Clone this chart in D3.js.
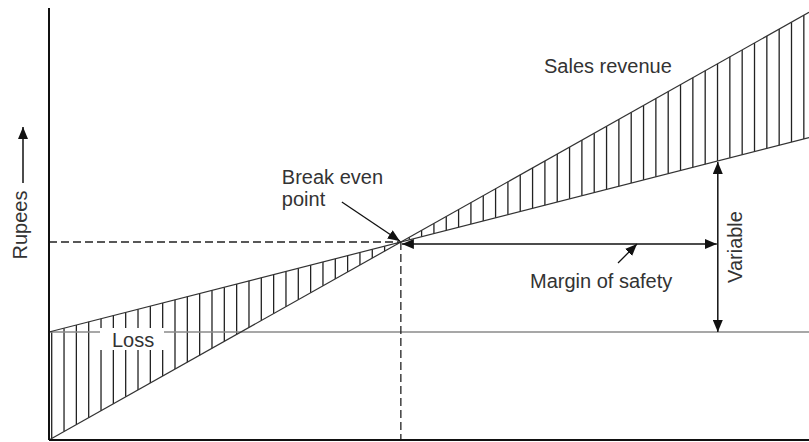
<!DOCTYPE html>
<html>
<head>
<meta charset="utf-8">
<script src="https://cdn.jsdelivr.net/npm/d3@7"></script>
<style>
  body { margin: 0; background: #fff; }
  text { font-family: "Liberation Sans", Arial, sans-serif; fill: #333; }
</style>
</head>
<body>
<div id="chart"></div>
<script>
// --- data (units of output vs rupees)
const units = [0, 1000];
const salesRevenue = [0, 990];
const totalCost = [250, 700];
const fixedCost = [250, 250];
const actualOutput = 880;
const labels = {
  sales: 'Sales revenue',
  bep: ['Break even', 'point'],
  margin: 'Margin of safety',
  variable: 'Variable',
  loss: 'Loss',
  yAxis: 'Rupees'
};

// --- dimensions
const width = 809;
const height = 442;
const margin = { top: 8, right: 0, bottom: 2, left: 49 };
const fontSize = 20;

const x = d3.scaleLinear().domain([0, 1000]).range([margin.left, width - margin.right]);
const y = d3.scaleLinear().domain([0, 1000]).range([height - margin.bottom, height - margin.bottom - 432]);

// line helpers
const lineAt = (vals) => (u) => vals[0] + (vals[1] - vals[0]) * (u - units[0]) / (units[1] - units[0]);
const sales = lineAt(salesRevenue);
const cost = lineAt(totalCost);
const fixed = lineAt(fixedCost);

// break even point from the intersection
const sSlope = (salesRevenue[1] - salesRevenue[0]) / (units[1] - units[0]);
const cSlope = (totalCost[1] - totalCost[0]) / (units[1] - units[0]);
const bepU = (totalCost[0] - salesRevenue[0]) / (sSlope - cSlope);
const bepV = sales(bepU);
const bx = x(bepU), by = y(bepV);

const svg = d3.select('#chart').append('svg')
  .attr('width', width)
  .attr('height', height);

// --- arrow markers
const defs = svg.append('defs');
defs.append('marker')
  .attr('id', 'head')
  .attr('viewBox', '0 0 12 10')
  .attr('refX', 12).attr('refY', 5)
  .attr('markerWidth', 12).attr('markerHeight', 10)
  .attr('markerUnits', 'userSpaceOnUse')
  .attr('orient', 'auto-start-reverse')
  .append('path')
  .attr('d', 'M0,0 L12,5 L0,10 Z')
  .attr('fill', '#111');

// --- hatching between sales and total cost
const hatchX = d3.range(51.7, width, 12.33);
svg.append('g')
  .attr('stroke', '#222')
  .attr('stroke-width', 1.3)
  .selectAll('line')
  .data(hatchX)
  .join('line')
    .attr('x1', d => d)
    .attr('x2', d => d)
    .attr('y1', d => y(sales(x.invert(d))))
    .attr('y2', d => y(cost(x.invert(d))));

// --- fixed cost line
svg.append('line')
  .attr('x1', x(units[0])).attr('x2', x(units[1]))
  .attr('y1', y(fixed(units[0]))).attr('y2', y(fixed(units[1])))
  .attr('stroke', '#8a8a8a')
  .attr('stroke-width', 1.5);

// --- sales & cost lines
const line = d3.line().x(d => x(d[0])).y(d => y(d[1]));
[salesRevenue, totalCost].forEach(vals => {
  svg.append('path')
    .attr('d', line(units.map((u, i) => [u, vals[i]])))
    .attr('fill', 'none')
    .attr('stroke', '#333')
    .attr('stroke-width', 1.2);
});

// --- dashed guides to break even point
svg.append('line')
  .attr('x1', x(0)).attr('x2', bx)
  .attr('y1', by).attr('y2', by)
  .attr('stroke', '#222').attr('stroke-width', 1.3)
  .attr('stroke-dasharray', '8,4');
svg.append('line')
  .attr('x1', bx).attr('x2', bx)
  .attr('y1', by).attr('y2', y(0))
  .attr('stroke', '#222').attr('stroke-width', 1.3)
  .attr('stroke-dasharray', '8,4');

// --- axes
svg.append('line')
  .attr('x1', x(0)).attr('x2', x(0))
  .attr('y1', y(0)).attr('y2', y.range()[1])
  .attr('stroke', '#111').attr('stroke-width', 2);
svg.append('line')
  .attr('x1', x(0)).attr('x2', x(units[1]))
  .attr('y1', y(0)).attr('y2', y(0))
  .attr('stroke', '#111').attr('stroke-width', 2);

// --- margin of safety arrow
const ax = x(actualOutput);
svg.append('line')
  .attr('x1', bx + 1).attr('x2', ax - 1)
  .attr('y1', by + 2).attr('y2', by + 2)
  .attr('stroke', '#111').attr('stroke-width', 1.5)
  .attr('marker-start', 'url(#head)')
  .attr('marker-end', 'url(#head)');

// --- variable cost arrow
svg.append('line')
  .attr('x1', ax).attr('x2', ax)
  .attr('y1', y(cost(actualOutput)) + 1).attr('y2', y(fixed(actualOutput)))
  .attr('stroke', '#111').attr('stroke-width', 1.5)
  .attr('marker-start', 'url(#head)')
  .attr('marker-end', 'url(#head)');

// --- pointer arrows
svg.append('line')
  .attr('x1', bx - 59).attr('y1', by - 40)
  .attr('x2', bx - 1).attr('y2', by - 1)
  .attr('stroke', '#111').attr('stroke-width', 1.3)
  .attr('marker-end', 'url(#head)');
svg.append('line')
  .attr('x1', 618).attr('y1', by + 21)
  .attr('x2', 637).attr('y2', by + 2)
  .attr('stroke', '#111').attr('stroke-width', 1.3)
  .attr('marker-end', 'url(#head)');

// --- y axis label and arrow
svg.append('line')
  .attr('x1', 23).attr('x2', 23)
  .attr('y1', 183).attr('y2', 127)
  .attr('stroke', '#111').attr('stroke-width', 1.5)
  .attr('marker-end', 'url(#head)');
svg.append('text')
  .attr('transform', 'translate(27,225) rotate(-90)')
  .attr('text-anchor', 'middle')
  .attr('font-size', fontSize)
  .text(labels.yAxis);

// --- text labels
svg.append('text')
  .attr('x', 544).attr('y', 73)
  .attr('font-size', fontSize)
  .text(labels.sales);

svg.append('text')
  .attr('x', bx - 119).attr('y', by - 58)
  .attr('font-size', fontSize)
  .selectAll('tspan')
  .data(labels.bep)
  .join('tspan')
    .attr('x', bx - 119)
    .attr('dy', (d, i) => i ? 22 : 0)
    .text(d => d);

svg.append('text')
  .attr('x', 530).attr('y', by + 46)
  .attr('font-size', fontSize)
  .text(labels.margin);

svg.append('text')
  .attr('transform', `translate(${ax + 24},${by + 5}) rotate(-90)`)
  .attr('text-anchor', 'middle')
  .attr('font-size', fontSize)
  .text(labels.variable);

// loss label with white box
const fy = y(fixed(0));
svg.append('rect')
  .attr('x', 100).attr('y', fy - 4)
  .attr('width', 64).attr('height', 22)
  .attr('fill', '#fff');
svg.append('text')
  .attr('x', 112).attr('y', fy + 15)
  .attr('font-size', fontSize)
  .text(labels.loss);
</script>
</body>
</html>
